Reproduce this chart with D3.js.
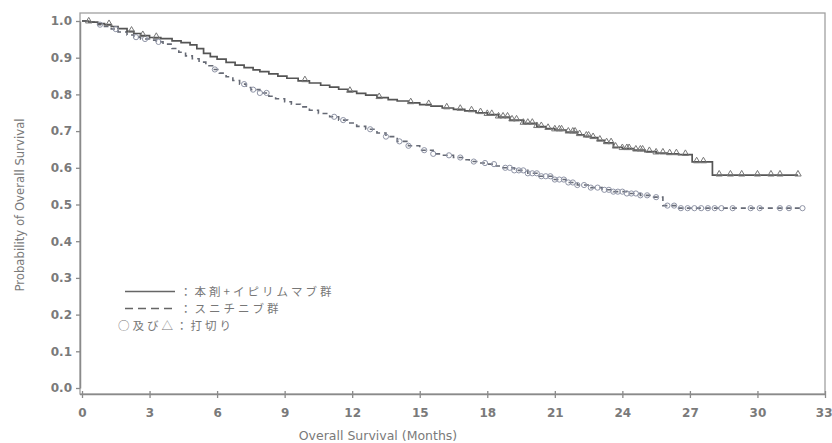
<!DOCTYPE html>
<html><head><meta charset="utf-8">
<script src="https://cdn.jsdelivr.net/npm/d3@7"></script>
<style>body{margin:0;background:#fff}</style>
</head><body>
<svg id="c" width="832" height="443"></svg>
<script>
// Data
const xTicks = [0,3,6,9,12,15,18,21,24,27,30,33];
const yTicks = [0,0.1,0.2,0.3,0.4,0.5,0.6,0.7,0.8,0.9,1.0];

const solidT = [0,0.3,0.7,1.0,1.3,1.6,2.0,2.3,2.6,3.0,3.5,4.0,4.4,4.8,5.1,5.4,5.7,6.0,6.4,6.8,7.2,7.6,7.9,8.3,8.7,9.1,9.6,10.1,10.6,11.0,11.4,11.8,12.2,12.6,13.1,13.6,14.0,14.5,15.0,15.5,16.0,16.5,17.0,17.5,18.0,18.5,19.0,19.6,20.2,20.6,21.0,21.5,22.0,22.3,22.6,22.9,23.2,23.6,24.0,24.5,25.0,25.5,26.0,26.5,27.1,28.0,31.8];
const solidS = [1.0,0.997,0.993,0.99,0.985,0.979,0.972,0.966,0.96,0.955,0.952,0.946,0.941,0.935,0.925,0.912,0.903,0.896,0.887,0.88,0.873,0.867,0.862,0.856,0.85,0.844,0.837,0.831,0.825,0.82,0.814,0.808,0.803,0.798,0.791,0.786,0.782,0.777,0.772,0.768,0.763,0.759,0.755,0.75,0.745,0.738,0.73,0.721,0.712,0.707,0.703,0.697,0.69,0.686,0.682,0.675,0.668,0.656,0.652,0.648,0.644,0.64,0.638,0.636,0.616,0.58,0.58];

const dashT = [0,0.3,0.7,1.0,1.3,1.6,2.0,2.3,2.6,3.0,3.3,3.6,4.0,4.3,4.6,4.9,5.2,5.5,5.8,6.1,6.4,6.7,7.0,7.3,7.5,7.9,8.3,8.6,9.0,9.3,9.7,10.1,10.5,11.0,11.4,11.8,12.2,12.6,13.1,13.5,14.0,14.5,15.0,15.6,16.0,16.5,16.9,17.2,17.6,18.0,18.4,18.7,19.2,19.8,20.3,20.9,21.5,22.0,22.6,23.1,23.6,24.2,24.8,25.3,25.8,26.5,32.0];
const dashS = [1.0,0.997,0.99,0.985,0.978,0.97,0.962,0.956,0.951,0.948,0.943,0.937,0.925,0.915,0.905,0.897,0.888,0.878,0.868,0.858,0.848,0.838,0.828,0.819,0.813,0.804,0.795,0.788,0.78,0.773,0.766,0.757,0.748,0.739,0.73,0.722,0.713,0.705,0.695,0.685,0.672,0.66,0.648,0.638,0.634,0.628,0.622,0.617,0.613,0.61,0.605,0.6,0.593,0.585,0.577,0.568,0.56,0.553,0.546,0.54,0.535,0.53,0.525,0.52,0.497,0.49,0.49];

const solidCensor = [0.3,1.2,2.2,2.7,3.3,9.9,11.9,13.2,14.6,15.4,16.2,16.8,17.3,17.7,18.0,18.2,18.5,18.7,18.9,19.1,19.3,19.6,19.8,20.0,20.2,20.4,20.7,21.0,21.2,21.3,21.6,21.8,21.9,22.1,22.4,22.5,22.7,23.0,23.3,23.5,23.7,24.0,24.2,24.3,24.6,24.8,24.9,25.2,25.5,25.8,26.1,26.4,26.8,27.3,27.6,28.3,28.8,29.3,30.0,30.6,31.0,31.8];
const dashCensor = [0.8,1.5,2.4,2.8,3.4,5.9,7.2,7.6,7.9,8.2,11.2,11.6,12.8,13.5,14.1,14.5,15.2,15.6,16.3,16.8,17.4,17.9,18.3,18.8,19.0,19.2,19.4,19.6,19.8,20.0,20.2,20.4,20.6,20.8,21.0,21.2,21.4,21.6,21.8,22.0,22.3,22.6,22.9,23.2,23.4,23.6,23.8,24.0,24.2,24.4,24.6,24.8,25.1,25.5,26.0,26.3,26.6,26.9,27.2,27.5,27.8,28.1,28.4,28.9,29.7,30.1,31.0,31.4,32.0];

const legendLabels = ["：本剤+イピリムマブ群","：スニチニブ群","○及び△：打切り"];
const xTitle = "Overall Survival (Months)";
const yTitle = "Probability of Overall Survival";

const svg = d3.select("#c");
const x = d3.scaleLinear().domain([0,33]).range([82,825]);
const y = d3.scaleLinear().domain([0,1]).range([388,21]);
const axisCol = "#8a8a8a", textCol = "#7a7a7a";

// frame
svg.append("rect").attr("x",80).attr("y",13).attr("width",745).attr("height",381)
  .attr("fill","none").attr("stroke","#a0a0a0").attr("stroke-width",1.3);

// y axis
const ya = svg.append("g").attr("transform","translate(80,0)")
  .call(d3.axisLeft(y).tickValues(yTicks).tickFormat(d3.format(".1f")).tickSize(4).tickSizeOuter(0));
ya.select(".domain").attr("stroke",axisCol).attr("stroke-width",1.5);
ya.selectAll(".tick line").attr("stroke",axisCol).attr("stroke-width",1.3);
ya.selectAll("text").attr("fill",textCol).attr("font-family","DejaVu Sans").attr("font-size",12).attr("font-weight","bold").attr("dx",-1);

// x axis
const xa = svg.append("g").attr("transform","translate(0,394)")
  .call(d3.axisBottom(x).tickValues(xTicks).tickSize(4).tickSizeOuter(0));
xa.select(".domain").attr("stroke",axisCol).attr("stroke-width",1.5).attr("d","M80,0.5H825");
xa.selectAll(".tick line").attr("stroke",axisCol).attr("stroke-width",1.3).attr("y1",-3);
xa.selectAll("text").attr("fill",textCol).attr("font-family","DejaVu Sans").attr("font-size",12).attr("font-weight","bold").attr("dy","1.3em");
xa.selectAll(".tick").filter(d=>d===33).select("text").attr("text-anchor","end").attr("dx",7);

// titles
svg.append("text").attr("x",378).attr("y",440).attr("text-anchor","middle")
  .attr("font-family","DejaVu Sans").attr("font-size",12.5).attr("fill",textCol).text(xTitle);
svg.append("text").attr("transform","translate(24,205) rotate(-90)").attr("text-anchor","middle")
  .attr("font-family","DejaVu Sans Condensed, DejaVu Sans").attr("font-stretch","condensed").attr("font-size",13).attr("fill",textCol).text(yTitle);

// curves
const line = d3.line().x(d=>x(d[0])).y(d=>y(d[1])).curve(d3.curveStepAfter);
const solid = d3.zip(solidT, solidS), dash = d3.zip(dashT, dashS);
svg.append("path").datum(dash).attr("d",line).attr("fill","none")
  .attr("stroke","#666a75").attr("stroke-width",1.6).attr("stroke-dasharray","5,4");
svg.append("path").datum(solid).attr("d",line).attr("fill","none")
  .attr("stroke","#555").attr("stroke-width",1.7);

function survAt(T,S,t){ let v=S[0]; for(let i=0;i<T.length;i++){ if(T[i]<=t) v=S[i]; } return v; }

// censor markers
svg.append("g").selectAll("circle").data(dashCensor).join("circle")
  .attr("cx",d=>x(d)).attr("cy",d=>y(survAt(dashT,dashS,d))).attr("r",2.6)
  .attr("fill","none").attr("stroke","#8f94a6").attr("stroke-width",1);
const tri = d3.symbol().type(d3.symbolTriangle).size(18);
svg.append("g").selectAll("path").data(solidCensor).join("path")
  .attr("transform",d=>`translate(${x(d)},${y(survAt(solidT,solidS,d))-1})`).attr("d",tri)
  .attr("fill","none").attr("stroke","#777").attr("stroke-width",1);

// legend
const lg = svg.append("g");
lg.append("line").attr("x1",125).attr("x2",175).attr("y1",291.5).attr("y2",291.5).attr("stroke","#666").attr("stroke-width",1.5);
lg.append("line").attr("x1",125).attr("x2",175).attr("y1",308.5).attr("y2",308.5).attr("stroke","#666").attr("stroke-width",1.5).attr("stroke-dasharray","8,5");
const lf = "Noto Sans CJK JP, sans-serif";
[[180,296,0],[180,313,1],[118,330,2]].forEach(([lx,ly,i])=>{
  lg.append("text").attr("x",lx).attr("y",ly).attr("font-family",lf).attr("font-size",11.5)
    .attr("letter-spacing",3).attr("fill","#777").text(legendLabels[i]);
});
</script>
</body></html>
